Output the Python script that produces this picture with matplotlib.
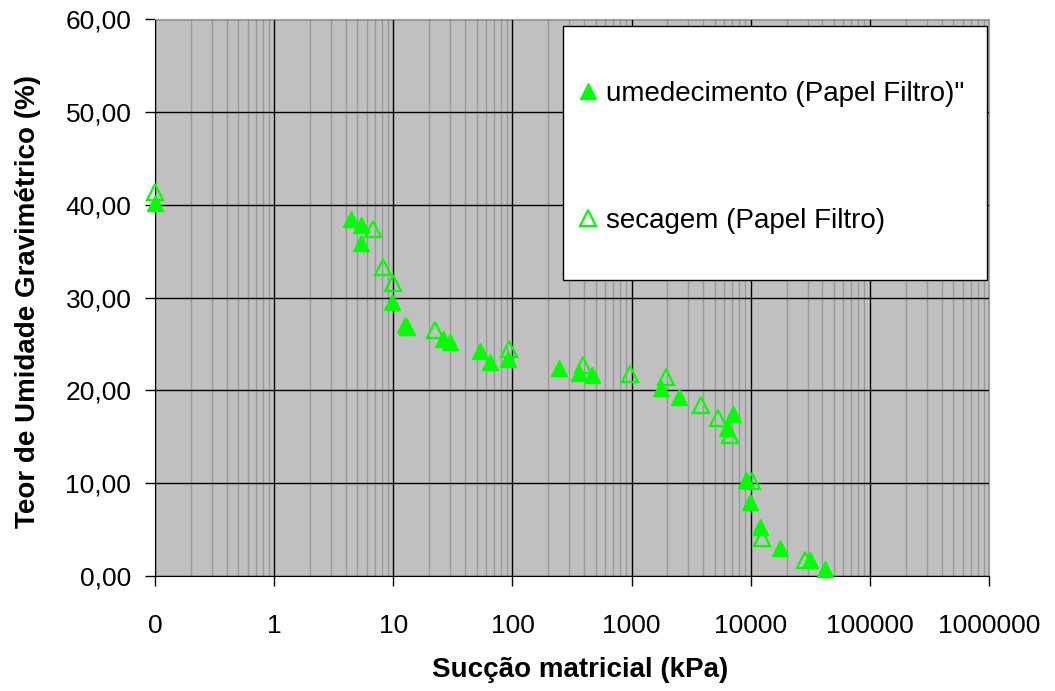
import numpy as np
import matplotlib.pyplot as plt
from matplotlib.ticker import FixedLocator, FuncFormatter, LogLocator
from matplotlib.patches import Rectangle

plt.rcParams['font.family'] = ['Liberation Sans', 'DejaVu Sans']

# umedecimento (Papel Filtro) - filled triangles
umed_x = [0.1, 4.4, 5.4, 5.4, 9.7, 12.6, 13.0, 26.0, 30.0, 53.6, 65.0, 91.0,
          245.0, 359.0, 469.0, 1775.0, 2512.0, 6310.0, 7050.0, 9120.0, 9900.0,
          12020.0, 17460.0, 31200.0, 42300.0]
umed_y = [40.2, 38.5, 37.8, 35.9, 29.5, 27.0, 26.8, 25.5, 25.2, 24.2, 23.1, 23.4,
          22.4, 21.9, 21.7, 20.2, 19.3, 15.9, 17.4, 10.3, 8.0,
          5.3, 3.0, 1.7, 0.8]

# secagem (Papel Filtro) - hollow triangles
sec_x = [0.1, 6.8, 8.26, 10.0, 22.5, 94.0, 390.0, 973.0, 1950.0, 3820.0,
         5310.0, 6730.0, 10230.0, 12400.0, 28650.0]
sec_y = [41.4, 37.4, 33.3, 31.6, 26.5, 24.5, 22.7, 21.8, 21.4, 18.4,
         17.0, 15.2, 10.2, 4.1, 1.7]

x_ticks = [0.1, 1, 10, 100, 1000, 10000, 100000, 1000000]
y_ticks = [0, 10, 20, 30, 40, 50, 60]

green = '#00ff00'

fig = plt.figure(figsize=(10.55, 6.91), dpi=100)
ax = fig.add_axes([0.1469, 0.1664, 0.7906, 0.8061])
ax.set_facecolor('#c0c0c0')

ax.set_xscale('log')
ax.set_xlim(0.1, 1000000)
ax.set_ylim(0, 60)

ax.xaxis.set_major_locator(FixedLocator(x_ticks))
ax.xaxis.set_minor_locator(LogLocator(base=10, subs=np.arange(2, 10), numticks=20))
ax.xaxis.set_major_formatter(FuncFormatter(lambda v, p: '0' if v < 1 else '%d' % v))
ax.xaxis.set_minor_formatter(FuncFormatter(lambda v, p: ''))
ax.yaxis.set_major_locator(FixedLocator(y_ticks))
ax.yaxis.set_major_formatter(FuncFormatter(lambda v, p: ('%.2f' % v).replace('.', ',')))

ax.grid(which='minor', axis='x', color='#999999', lw=1)
ax.grid(which='major', axis='both', color='#000000', lw=1)
ax.set_axisbelow(True)

ax.tick_params(which='major', direction='out', length=7, width=1, labelsize=19)
ax.tick_params(axis='x', pad=20)
ax.tick_params(axis='y', pad=10)
ax.tick_params(which='minor', length=0)

ax.spines['top'].set_color('#a0a0a0')
ax.spines['right'].set_color('#a0a0a0')
ax.spines['left'].set_color('#000000')
ax.spines['bottom'].set_color('#000000')

l1, = ax.plot(umed_x, umed_y, ls='none', marker='^', ms=11.5, color=green,
              mec=green, clip_on=False, zorder=3, label='umedecimento (Papel Filtro)"')
l2, = ax.plot(sec_x, sec_y, ls='none', marker='^', ms=11, mfc='none', mec=green,
              mew=1.6, clip_on=False, zorder=3, label='secagem (Papel Filtro)')

fig.text(580 / 1055, 1 - 670 / 691, 'Sucção matricial (kPa)', fontsize=20,
         fontweight='bold', ha='center', va='center')
fig.text(28 / 1055, 1 - 302 / 691, 'Teor de Umidade Gravimétrico (%)', fontsize=20,
         fontweight='bold', ha='center', va='center', rotation=90)

# legend box
box = Rectangle((0.489, 0.531), 0.5085, 0.4565, transform=ax.transAxes,
                facecolor='white', edgecolor='black', lw=1, zorder=4)
ax.add_patch(box)
leg = ax.legend(handles=[l1, l2], loc='center left', bbox_to_anchor=(0.489, 0.752),
                frameon=False, fontsize=20, handlelength=0.8, handletextpad=0.25,
                labelspacing=3.63, borderpad=0, markerscale=1.05)
leg.set_zorder(5)

fig.savefig('out.png', dpi=100)
